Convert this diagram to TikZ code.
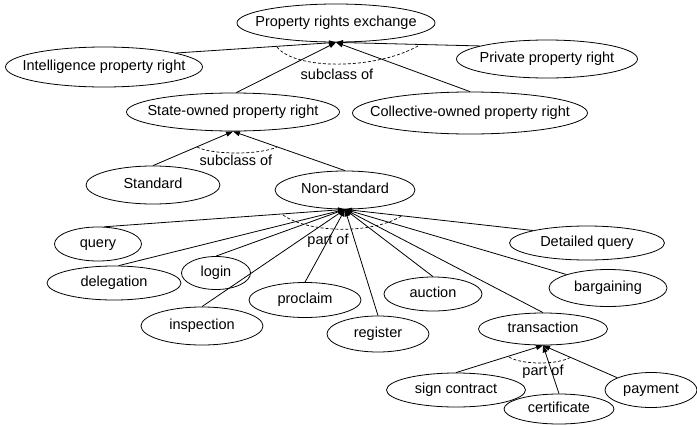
\documentclass[tikz,border=0pt]{standalone}
\usepackage{fontspec}
\setmainfont{Liberation Sans}
\usetikzlibrary{shapes.geometric,arrows.meta}
\begin{document}
\begin{tikzpicture}[x=1pt,y=-1pt,
  cls/.style={draw, ellipse, inner sep=0pt, line width=0.8pt,
    font=\fontsize{14.5}{16}\selectfont, text height=10.5pt, text depth=3pt},
  sz/.style 2 args={minimum width=#1pt, minimum height=#2pt},
  arr/.style={line width=0.8pt, -{Triangle[length=7pt,width=5pt]}},
  arcd/.style={line width=0.7pt, dash pattern=on 3pt off 2pt},
  lab/.style={font=\fontsize{14.5}{16}\selectfont, inner sep=0pt}]
\useasboundingbox (0,0) rectangle (697,426);
% nodes
\node[cls, sz={198}{38}] (pre) at (336,23) {\makebox[0pt]{Property rights exchange}};
\node[cls, sz={197}{40}] (ipr) at (104,67) {\makebox[0pt]{Intelligence property right}};
\node[cls, sz={181}{38}] (ppr) at (547,59) {\makebox[0pt]{Private property right}};
\node[cls, sz={213}{38}] (son) at (233,112) {\makebox[0pt]{State-owned property right}};
\node[cls, sz={235}{42}] (col) at (470,113) {\makebox[0pt]{Collective-owned property right}};
\node[cls, sz={134}{38}] (std) at (153,185) {\makebox[0pt]{Standard}};
\node[cls, sz={140}{38}] (non) at (345,190) {\makebox[0pt]{Non-standard}};
\node[cls, sz={87}{34}] (qry) at (98,244) {\makebox[0pt]{query}};
\node[cls, sz={134}{34}] (del) at (114,283) {\makebox[0pt]{delegation}};
\node[cls, sz={69}{33}] (log) at (216,273) {\makebox[0pt]{login}};
\node[cls, sz={112}{35}] (pro) at (305,300) {\makebox[0pt]{proclaim}};
\node[cls, sz={122}{38}] (ins) at (202,326) {\makebox[0pt]{inspection}};
\node[cls, sz={102}{36}] (reg) at (378,334) {\makebox[0pt]{register}};
\node[cls, sz={98}{34}] (auc) at (433,294) {\makebox[0pt]{auction}};
\node[cls, sz={155}{34}] (dqr) at (587,243) {\makebox[0pt]{Detailed query}};
\node[cls, sz={118}{37}] (bar) at (608,288) {\makebox[0pt]{bargaining}};
\node[cls, sz={129}{32}] (tra) at (543,329) {\makebox[0pt]{transaction}};
\node[cls, sz={139}{34}] (sig) at (456,390) {\makebox[0pt]{sign contract}};
\node[cls, sz={110}{30}] (cer) at (559,409) {\makebox[0pt]{certificate}};
\node[cls, sz={92}{35}] (pay) at (651,390) {\makebox[0pt]{payment}};
% labels
\node[lab] (l1) at (337,74) {subclass of};
\node[lab] (l2) at (236,160) {subclass of};
\node[lab] (l3) at (328,241) {part of};
\node[lab] (l4) at (543,372) {part of};
% edges
\draw[arr] (ipr.11) -- (pre.south);
\draw[arr] (ppr.169) -- (pre.south);
\draw[arr] (son.80) -- (pre.south);
\draw[arr] (col.north) -- (pre.south);
\draw[arr] (std.north) -- (son.south);
\draw[arr] (non.north) -- (son.south);
\draw[arr] (qry.70) -- (non.south);
\draw[arr] (del.75) -- (non.south);
\foreach \s in {log,pro,ins,reg,auc,tra} \draw[arr] (\s.north) -- (non.south);
\draw[arr] (dqr.167) -- (non.south);
\draw[arr] (bar.162) -- (non.south);
\foreach \s in {sig,cer} \draw[arr] (\s.north) -- (tra.south);
\draw[arr] (pay.160) -- (tra.south);
% dashed arcs
\draw[arcd] (277,47) .. controls (295,70) and (375,70) .. (418,46);
\draw[arcd] (197,147) .. controls (212,155) and (260,155) .. (277,147);
\draw[arcd] (283,215) .. controls (310,234) and (375,234) .. (403,215);
\draw[arcd] (509,357) .. controls (522,365) and (558,365) .. (571,357);
\end{tikzpicture}
\end{document}
